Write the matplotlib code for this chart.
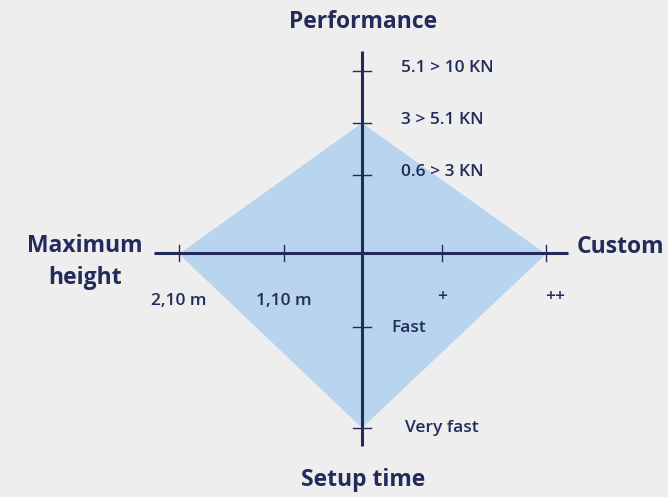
import matplotlib
matplotlib.use('Agg')
from matplotlib import pyplot as plt

# axis labels and level names
perf_labels = ['0.6 > 3 KN', '3 > 5.1 KN', '5.1 > 10 KN']
height_labels = ['1,10 m', '2,10 m']
custom_labels = ['+', '++']
setup_labels = ['Fast', 'Very fast']

# product levels (1-based) on each axis
perf_value = 2
height_value = 2
custom_value = 2
setup_value = 2

NAVY = '#222b5a'
FILL = '#b9d4ef'
BG = '#eeeeee'
FONT = ['Open Sans', 'DejaVu Sans']

# layout in pixel-ish units, origin at centre of the cross
CX, CY = 362, 254
up_ticks = [79, 131, 183]
left_ticks = [78, 183]
right_ticks = [80, 184]
down_ticks = [73, 174]

fig = plt.figure(figsize=(6.68, 4.97), dpi=100, facecolor=BG)
ax = fig.add_axes([0, 0, 1, 1])
ax.set_xlim(0, 668)
ax.set_ylim(497, 0)
ax.axis('off')
ax.set_facecolor(BG)

# diamond
top = (CX, CY - up_ticks[perf_value - 1])
right = (CX + right_ticks[custom_value - 1], CY)
bottom = (CX, CY + down_ticks[setup_value - 1])
left = (CX - left_ticks[height_value - 1], CY)
xs = [top[0], right[0], bottom[0], left[0]]
ys = [top[1], right[1], bottom[1], left[1]]
ax.fill(xs, ys, color=FILL, lw=0, zorder=1)

# cross
ax.plot([154, 568], [CY - 1, CY - 1], color=NAVY, lw=2.2, zorder=3, solid_capstyle='butt')
ax.plot([CX, CX], [51, 446], color=NAVY, lw=2.2, zorder=3, solid_capstyle='butt')

# ticks
for t in up_ticks:
    ax.plot([CX - 9, CX + 9], [CY - t, CY - t], color=NAVY, lw=1, zorder=3)
for t in down_ticks:
    ax.plot([CX - 9, CX + 9], [CY + t, CY + t], color=NAVY, lw=1, zorder=3)
for t in left_ticks:
    ax.plot([CX - t, CX - t], [CY - 9, CY + 7], color=NAVY, lw=1, zorder=3)
for t in right_ticks:
    ax.plot([CX + t, CX + t], [CY - 9, CY + 7], color=NAVY, lw=1, zorder=3)

small = dict(color=NAVY, fontsize=12.5, family=FONT, fontweight='semibold', va='center')
big = dict(color=NAVY, fontsize=16.5, family=FONT, fontweight='bold', va='center')

for t, lab in zip(up_ticks, perf_labels):
    ax.text(401, CY - t - 3, lab, ha='left', **small)
for t, lab in zip(left_ticks, height_labels):
    ax.text(CX - t, 301, lab, ha='center', **small)
for t, lab in zip(right_ticks, custom_labels):
    ax.text(CX + t + (9 if len(lab) > 1 else 0), 297, lab, ha='center', **small)
ax.text(391, CY + down_ticks[0] + 1, setup_labels[0], ha='left', **small)
ax.text(405, CY + down_ticks[1], setup_labels[1], ha='left', **small)

ax.text(CX + 1, 22, 'Performance', ha='center', **big)
ax.text(CX + 1, 480, 'Setup time', ha='center', **big)
ax.text(577, 247, 'Custom', ha='left', **big)
ax.text(85, 262, 'Maximum\nheight', ha='center', linespacing=1.45, **big)

fig.savefig('out.png', dpi=100, facecolor=BG)
